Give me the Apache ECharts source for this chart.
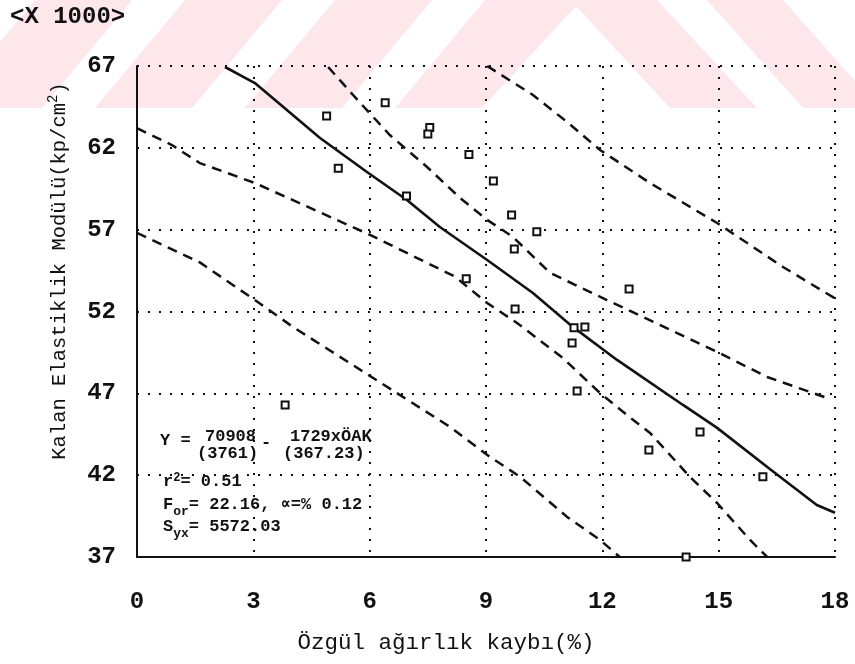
<!DOCTYPE html>
<html>
<head>
<meta charset="utf-8">
<script src="https://cdn.jsdelivr.net/npm/echarts@6/dist/echarts.min.js"></script>
<style>html,body{margin:0;padding:0;background:#fff}#c{width:855px;height:664px}</style>
</head>
<body>
<div id="c"></div>
<script>
// ---- data ----
const xTicks = [0, 3, 6, 9, 12, 15, 18];
const yTicks = [37, 42, 47, 52, 57, 62, 67];

const pointsX = [4.89, 5.19, 6.40, 6.95, 7.55, 7.50, 8.56, 8.49, 9.19, 9.66, 10.31, 9.73, 9.75, 12.69, 11.27, 11.55, 11.22, 11.35, 13.20, 14.52, 16.14, 14.16, 3.82];
const pointsY = [63.95, 60.75, 64.76, 59.06, 63.25, 62.85, 61.6, 54.0, 59.97, 57.9, 56.88, 55.82, 52.16, 53.38, 51.0, 51.06, 50.08, 47.15, 43.54, 44.64, 41.9, 37.0, 46.29];

const regX = [2.27, 3.04, 4.72, 5.93, 6.96, 7.81, 9.03, 10.21, 11.24, 12.38, 14.08, 14.96, 16.32, 17.53, 18];
const regY = [66.94, 65.96, 62.6, 60.52, 58.81, 57.16, 55.15, 53.13, 51.06, 49.04, 46.29, 44.89, 42.38, 40.18, 39.7];

const upOutX = [9.03, 10.21, 11.09, 11.94, 13.23, 14.96, 16.66, 18];
const upOutY = [67, 65.23, 63.58, 61.87, 59.85, 57.41, 54.72, 52.8];

const upInX = [4.93, 5.57, 6.52, 7.48, 8.33, 9.03, 9.70, 10.65, 12.12, 14.96, 16.25, 17.79];
const upInY = [66.94, 65.23, 62.78, 60.83, 58.94, 57.6, 56.55, 54.36, 52.7, 49.53, 48.0, 46.72];

const lowInX = [0, 0.9, 1.62, 3.04, 6.01, 8.2, 9.03, 9.80, 10.98, 11.94, 12.79, 13.23, 14.26, 14.96, 15.81, 16.25];
const lowInY = [63.2, 62.17, 61.07, 59.85, 56.68, 54.13, 52.52, 51.3, 49.16, 47.02, 45.38, 44.58, 41.89, 40.3, 38.04, 37.0];

const lowOutX = [0, 1.62, 3.04, 4.02, 8.07, 9.10, 9.88, 11.09, 11.94, 12.45];
const lowOutY = [56.8, 55.0, 52.7, 51.06, 44.95, 43.12, 41.9, 39.45, 38.04, 37.0];

const unitLabel = '<X 1000>';
const xTitle = 'Özgül ağırlık kaybı(%)';
const yTitleMain = 'Kalan Elastiklik Modülü(kp/cm';

const zip = (a, b) => a.map((v, i) => [v, b[i]]);

const chart = echarts.init(document.getElementById('c'), null, {renderer: 'canvas'});

const pink = '#fde7eb';
const wm = [
  [[35,0],[132,0],[42,108],[-55,108]],
  [[185,0],[282,0],[192,108],[95,108]],
  [[335,0],[432,0],[342,108],[245,108]],
  [[485,0],[657,0],[757,108],[670,108],[576,6],[482,108],[395,108]],
  [[707,0],[783,0],[879,108],[803,108]]
];

const MONO = '"Liberation Mono", "DejaVu Sans Mono", monospace';
const annFont = 'bold 17px ' + MONO;

const graphics = wm.map(p => ({type:'polygon', silent:true, z:-100, shape:{points:p}, style:{fill:pink}}));
graphics.push(
  {type:'text', x:10, y:17, z:10, style:{text:unitLabel, font:'bold 24px ' + MONO, fill:'#111', textVerticalAlign:'middle'}},
  {type:'text', x:446, y:643, z:10, style:{text:xTitle, font:'22.5px ' + MONO, fill:'#111', textAlign:'center', textVerticalAlign:'middle'}},
  {type:'text', x:58, y:271, rotation:Math.PI/2, z:10, style:{
    text:'{n|' + yTitleMain + '}{s|2}{n|)}', textAlign:'center', textVerticalAlign:'middle', fill:'#111',
    rich:{n:{font:'20.5px ' + MONO, fill:'#111', lineHeight:24, verticalAlign:'bottom'}, s:{font:'14px ' + MONO, fill:'#111', verticalAlign:'top', lineHeight:24}}
  }},
  {type:'text', x:160, y:441, z:10, style:{text:'Y =', font:annFont, fill:'#111', textVerticalAlign:'middle'}},
  {type:'text', x:205, y:437, z:10, style:{text:'70908', font:annFont, fill:'#111', textVerticalAlign:'middle'}},
  {type:'text', x:261, y:443, z:10, style:{text:'-', font:annFont, fill:'#111', textVerticalAlign:'middle'}},
  {type:'text', x:290, y:437, z:10, style:{text:'1729xÖAK', font:annFont, fill:'#111', textVerticalAlign:'middle'}},
  {type:'text', x:197, y:454, z:10, style:{text:'(3761)', font:annFont, fill:'#111', textVerticalAlign:'middle'}},
  {type:'text', x:283, y:454, z:10, style:{text:'(367.23)', font:annFont, fill:'#111', textVerticalAlign:'middle'}},
  {type:'text', x:163, y:481, z:10, style:{text:'{n|r}{s|2}{n|= 0.51}', textVerticalAlign:'middle',
    rich:{n:{font:annFont, fill:'#111', lineHeight:18, verticalAlign:'bottom'}, s:{font:'bold 12px ' + MONO, fill:'#111', lineHeight:16, verticalAlign:'top'}}}},
  {type:'text', x:163, y:507, z:10, style:{text:'{n|F}{b|or}{n|= 22.16, ∝=% 0.12}', textVerticalAlign:'middle',
    rich:{n:{font:annFont, fill:'#111', lineHeight:22, verticalAlign:'top'}, b:{font:'bold 13px ' + MONO, fill:'#111', lineHeight:22, verticalAlign:'bottom'}}}},
  {type:'text', x:163, y:529, z:10, style:{text:'{n|S}{b|yx}{n|= 5572.03}', textVerticalAlign:'middle',
    rich:{n:{font:annFont, fill:'#111', lineHeight:22, verticalAlign:'top'}, b:{font:'bold 13px ' + MONO, fill:'#111', lineHeight:22, verticalAlign:'bottom'}}}}
);

const dashStyle = {color:'#111', width:2.5, type:[10,7]};
const lineSeries = (d, style) => ({type:'line', data:d, showSymbol:false, symbol:'none', lineStyle:style, z:3, silent:true, animation:false});

chart.setOption({
  animation:false,
  backgroundColor:'#ffffff',
  graphic: graphics,
  grid:{left:137, right:20, top:66, bottom:107, containLabel:false},
  xAxis:{
    type:'value', min:xTicks[0], max:xTicks[xTicks.length-1], interval:3,
    axisLine:{show:true, onZero:false, lineStyle:{color:'#111', width:2}},
    axisTick:{show:false},
    axisLabel:{margin:33, color:'#111', fontFamily:MONO, fontWeight:'bold', fontSize:24},
    splitLine:{show:true, lineStyle:{color:'#111', width:2, type:[2,9]}}
  },
  yAxis:{
    type:'value', min:yTicks[0], max:yTicks[yTicks.length-1], interval:5,
    axisLine:{show:true, onZero:false, lineStyle:{color:'#111', width:2}},
    axisTick:{show:false},
    axisLabel:{margin:21, color:'#111', fontFamily:MONO, fontWeight:'bold', fontSize:24},
    splitLine:{show:true, lineStyle:{color:'#111', width:2, type:[2,9]}}
  },
  series:[
    lineSeries(zip(regX, regY), {color:'#111', width:2.6, type:'solid'}),
    lineSeries(zip(upOutX, upOutY), dashStyle),
    lineSeries(zip(upInX, upInY), dashStyle),
    lineSeries(zip(lowInX, lowInY), dashStyle),
    lineSeries(zip(lowOutX, lowOutY), dashStyle),
    {type:'scatter', data:zip(pointsX, pointsY), symbol:'rect', symbolSize:7, z:4,
     itemStyle:{color:'#ffffff', borderColor:'#111', borderWidth:2, opacity:1}}
  ]
});
</script>
</body>
</html>
